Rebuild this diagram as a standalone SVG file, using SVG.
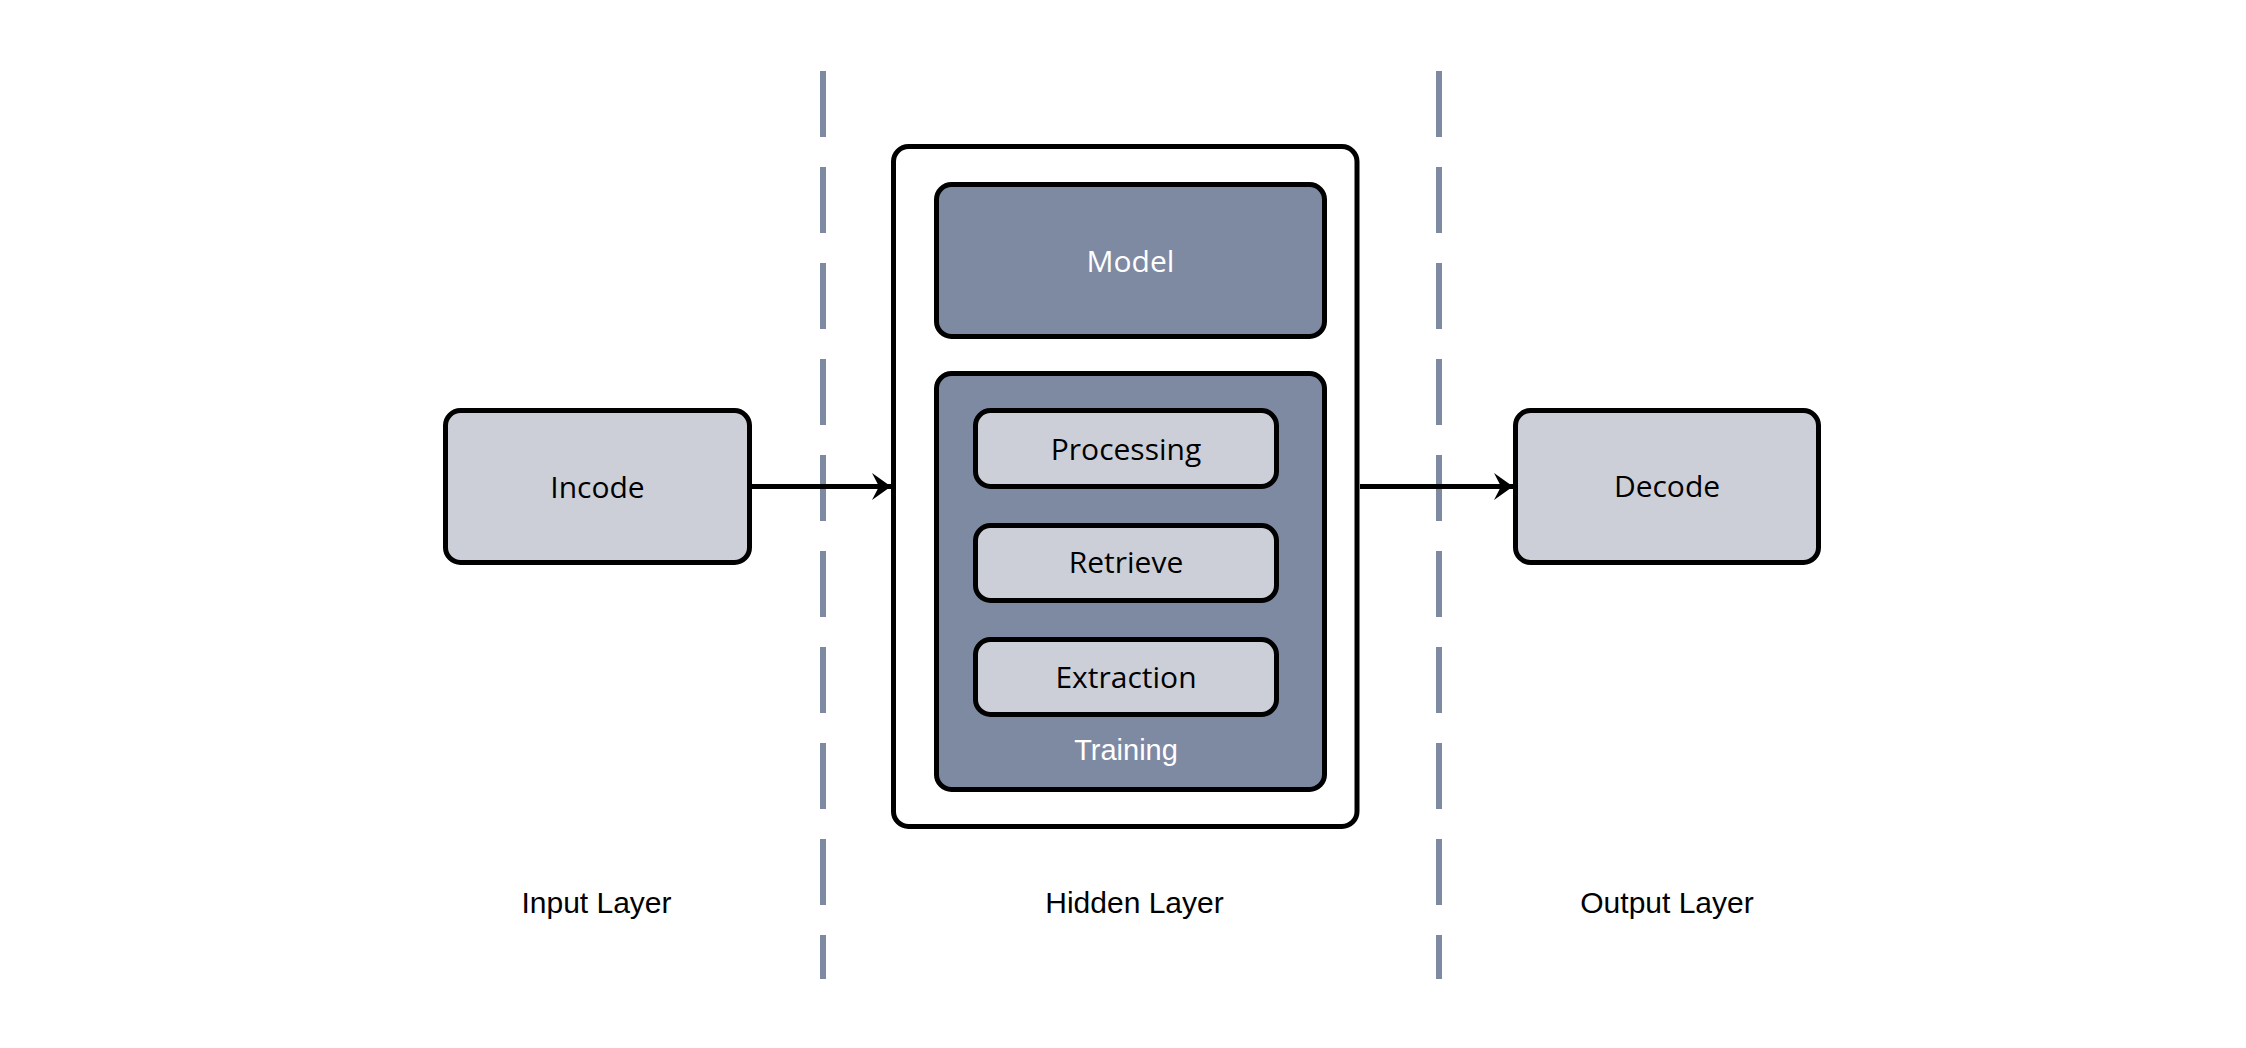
<svg xmlns="http://www.w3.org/2000/svg" width="2246" height="1048" viewBox="0 0 2246 1048">
  <style>
    .box { stroke: #000; stroke-width: 5; }
    .light { fill: #CCCFD8; }
    .dark { fill: #7E8AA2; }
    .plain { fill: #FFFFFF; }
    .lbl { font-family: "Open Sans", "Liberation Sans", sans-serif; font-size: 30px; text-anchor: middle; fill: #000; }
    .lblw { font-family: "Open Sans", "Liberation Sans", sans-serif; font-size: 30px; text-anchor: middle; fill: #FFF; }
    .layer { font-family: "Liberation Sans", Arial, sans-serif; font-size: 30px; text-anchor: middle; fill: #000; }
    .train { font-family: "Liberation Sans", Arial, sans-serif; font-size: 29px; text-anchor: middle; fill: #FFF; }
    .sep { stroke: #7E8AA2; stroke-width: 6; stroke-dasharray: 66 30; fill: none; }
    .edge { stroke: #000; stroke-width: 5; fill: none; }
  </style>
  <defs>
    <marker id="arrow" markerUnits="userSpaceOnUse" viewBox="-20 -15 22 30" refX="0" refY="0" markerWidth="22" markerHeight="30" orient="auto">
      <path d="M0,0 L-19,-13.5 L-12,0 L-19,13.5 Z" fill="#000"/>
    </marker>
  </defs>
  <rect width="2246" height="1048" fill="#FFFFFF"/>

  <g id="separators">
    <line class="sep" x1="823" y1="71" x2="823" y2="979"/>
    <line class="sep" x1="1439" y1="71" x2="1439" y2="979"/>
  </g>

  <g id="hidden-container">
    <rect class="box plain" x="893.5" y="146.5" width="463.5" height="680" rx="15"/>
  </g>

  <g id="model">
    <rect class="box dark" x="936.5" y="184.5" width="388" height="152" rx="15"/>
    <text class="lblw" x="1130.5" y="272">Model</text>
  </g>

  <g id="training">
    <rect class="box dark" x="936.5" y="373.5" width="388" height="416" rx="15"/>
    <text class="train" x="1126" y="760">Training</text>
  </g>

  <g id="processing">
    <rect class="box light" x="975.5" y="410.5" width="301" height="76" rx="15"/>
    <text class="lbl" x="1126" y="460">Processing</text>
  </g>

  <g id="retrieve">
    <rect class="box light" x="975.5" y="525.5" width="301" height="75" rx="15"/>
    <text class="lbl" x="1126" y="573">Retrieve</text>
  </g>

  <g id="extraction">
    <rect class="box light" x="975.5" y="639.5" width="301" height="75" rx="15"/>
    <text class="lbl" x="1126" y="688">Extraction</text>
  </g>

  <g id="incode">
    <rect class="box light" x="445.5" y="410.5" width="304" height="152" rx="15"/>
    <text class="lbl" x="597.5" y="498">Incode</text>
  </g>

  <g id="decode">
    <rect class="box light" x="1515.5" y="410.5" width="303" height="152" rx="15"/>
    <text class="lbl" x="1667" y="497">Decode</text>
  </g>

  <g id="connectors">
    <path class="edge" d="M752,486.5 L891,486.5" marker-end="url(#arrow)"/>
    <path class="edge" d="M1360,486.5 L1513,486.5" marker-end="url(#arrow)"/>
  </g>

  <g id="layer-labels">
    <text class="layer" x="596.5" y="913">Input Layer</text>
    <text class="layer" x="1134.5" y="913">Hidden Layer</text>
    <text class="layer" x="1667" y="913">Output Layer</text>
  </g>
</svg>
